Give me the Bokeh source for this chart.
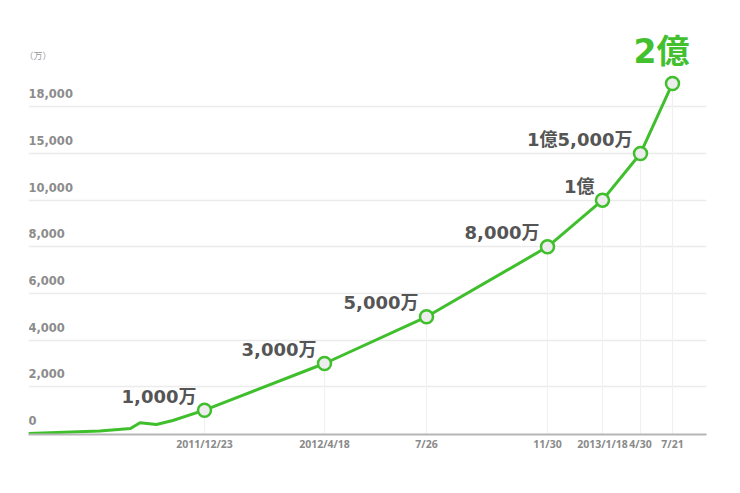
import numpy as np
import pandas as pd
from bokeh.plotting import figure
from bokeh.models import ColumnDataSource, FixedTicker, Grid, Range1d
from bokeh.core.properties import value
from bokeh.embed import file_html
from bokeh.resources import INLINE

# ---------------- data ----------------
early_dates = ["2011-06-23", "2011-09-05", "2011-10-07", "2011-10-17", "2011-11-03", "2011-11-20"]
early_users = [0, 107, 214, 459, 386, 557]          # 万人

milestone_dates = ["2011-12-23", "2012-04-18", "2012-07-26", "2012-11-30",
                   "2013-01-18", "2013-04-30", "2013-07-21"]
milestone_users = [1000, 3000, 5000, 8000, 10000, 15000, 20000]   # 万人
milestone_labels = ["1,000万", "3,000万", "5,000万", "8,000万", "1億", "1億5,000万", "2億"]

x_tick_labels = ["2011/12/23", "2012/4/18", "7/26", "11/30", "2013/1/18", "4/30", "7/21"]
y_tick_values = [0, 2000, 4000, 6000, 8000, 10000, 15000, 18000]
y_tick_labels = ["0", "2,000", "4,000", "6,000", "8,000", "10,000", "15,000", "18,000"]
y_unit = "（万）"

# ------------- piecewise scales (as in the original chart) -------------
launch = "2011-06-23"
X_BREAK_DATES = pd.to_datetime([launch] + milestone_dates).map(pd.Timestamp.toordinal).to_numpy()
X_BREAK_POS = np.array([0, 176, 296, 398, 519, 574, 612, 644])
Y_BREAK_VALS = np.array(y_tick_values + [22000])
Y_BREAK_POS = np.arange(len(Y_BREAK_VALS))


def xmap(dates):
    d = pd.to_datetime(dates).map(pd.Timestamp.toordinal).to_numpy()
    return np.interp(d, X_BREAK_DATES, X_BREAK_POS)


def ymap(vals):
    return np.interp(np.asarray(vals, dtype=float), Y_BREAK_VALS, Y_BREAK_POS)


GREEN = "#3fbf2c"
FONT = value("'DejaVu Sans', 'Noto Sans CJK JP', sans-serif")

all_dates = early_dates + milestone_dates
all_users = early_users + milestone_users

line_src = ColumnDataSource(dict(x=xmap(all_dates), y=ymap(all_users)))
ms_x = xmap(milestone_dates)
ms_y = ymap(milestone_users)
ms_src = ColumnDataSource(dict(x=ms_x, y=ms_y, y0=np.zeros(len(ms_x)), label=milestone_labels))
lab_src = ColumnDataSource(dict(x=ms_x[:-1], y=ms_y[:-1], label=milestone_labels[:-1]))
top_src = ColumnDataSource(dict(x=ms_x[-1:], y=ms_y[-1:], label=milestone_labels[-1:]))
ytick_src = ColumnDataSource(dict(x=np.zeros(len(y_tick_values)), y=ymap(y_tick_values), label=y_tick_labels))

# ---------------- figure ----------------
H_FRAME = 426
unit = 46.67
y0 = -1.0 / unit
y1 = y0 + H_FRAME / unit

p = figure(width=734, height=485, output_backend="svg", toolbar_location=None,
           x_range=Range1d(0, 678), y_range=Range1d(y0, y1),
           y_axis_location=None, min_border_left=28, min_border_right=28,
           min_border_top=8, min_border_bottom=51)
p.outline_line_color = None
p.background_fill_color = "white"
p.border_fill_color = "white"
p.xgrid.visible = False
for g in p.ygrid:
    g.visible = False

p.add_layout(Grid(dimension=1, ticker=FixedTicker(ticks=list(ymap(y_tick_values[1:]))),
                  grid_line_color="#ebebeb", grid_line_width=1.5))

# x axis
xa = p.xaxis[0]
tick_pos = [int(v) for v in X_BREAK_POS[1:]]
xa.ticker = FixedTicker(ticks=tick_pos)
xa.major_label_overrides = {t: l for t, l in zip(tick_pos, x_tick_labels)}
xa.axis_line_color = "#b5b5b5"
xa.axis_line_width = 2
xa.major_tick_line_color = None
xa.minor_tick_line_color = None
xa.major_tick_out = 0
xa.major_tick_in = 0
xa.major_label_standoff = 2
xa.major_label_text_font = "'Open Sans', 'DejaVu Sans', sans-serif"
xa.major_label_text_font_style = "bold"
xa.major_label_text_font_size = "10.5px"
xa.major_label_text_color = "#8a8a8a"

# vertical guide lines below milestones
p.segment(x0="x", y0="y0", x1="x", y1="y", source=ms_src, line_color="#f0f0f0", line_width=1.2)

# y tick labels (drawn inside the plot, above the grid lines)
p.text(x="x", y="y", text="label", source=ytick_src, text_font=FONT, text_font_style="bold",
       text_font_size="11.5px", text_color="#8c8c8c", text_align="left",
       text_baseline="middle", y_offset=-13)
p.text(x=[2], y=[ymap([18000])[0]], text=[y_unit], text_font=value("Noto Sans CJK JP"),
       text_font_size="9px", text_color="#9a9a9a", text_align="left",
       text_baseline="middle", x_offset=-6, y_offset=-51)

# growth line + markers
p.line(x="x", y="y", source=line_src, line_color=GREEN, line_width=3, line_join="round")
p.scatter(x="x", y="y", source=ms_src, size=13, fill_color="#ededed",
          line_color=GREEN, line_width=2.5)

# milestone annotations
p.text(x="x", y="y", text="label", source=lab_src, text_font=FONT, text_font_style="bold",
       text_font_size="18px", text_color="#555555", text_align="right",
       text_baseline="middle", x_offset=-8, y_offset=-14)
p.text(x="x", y="y", text="label", source=top_src, text_font=FONT, text_font_style="bold",
       text_font_size="33px", text_color="#42c02e", text_align="center",
       text_baseline="middle", x_offset=-11, y_offset=-32)

open("out.html", "w").write(file_html(p, INLINE))
